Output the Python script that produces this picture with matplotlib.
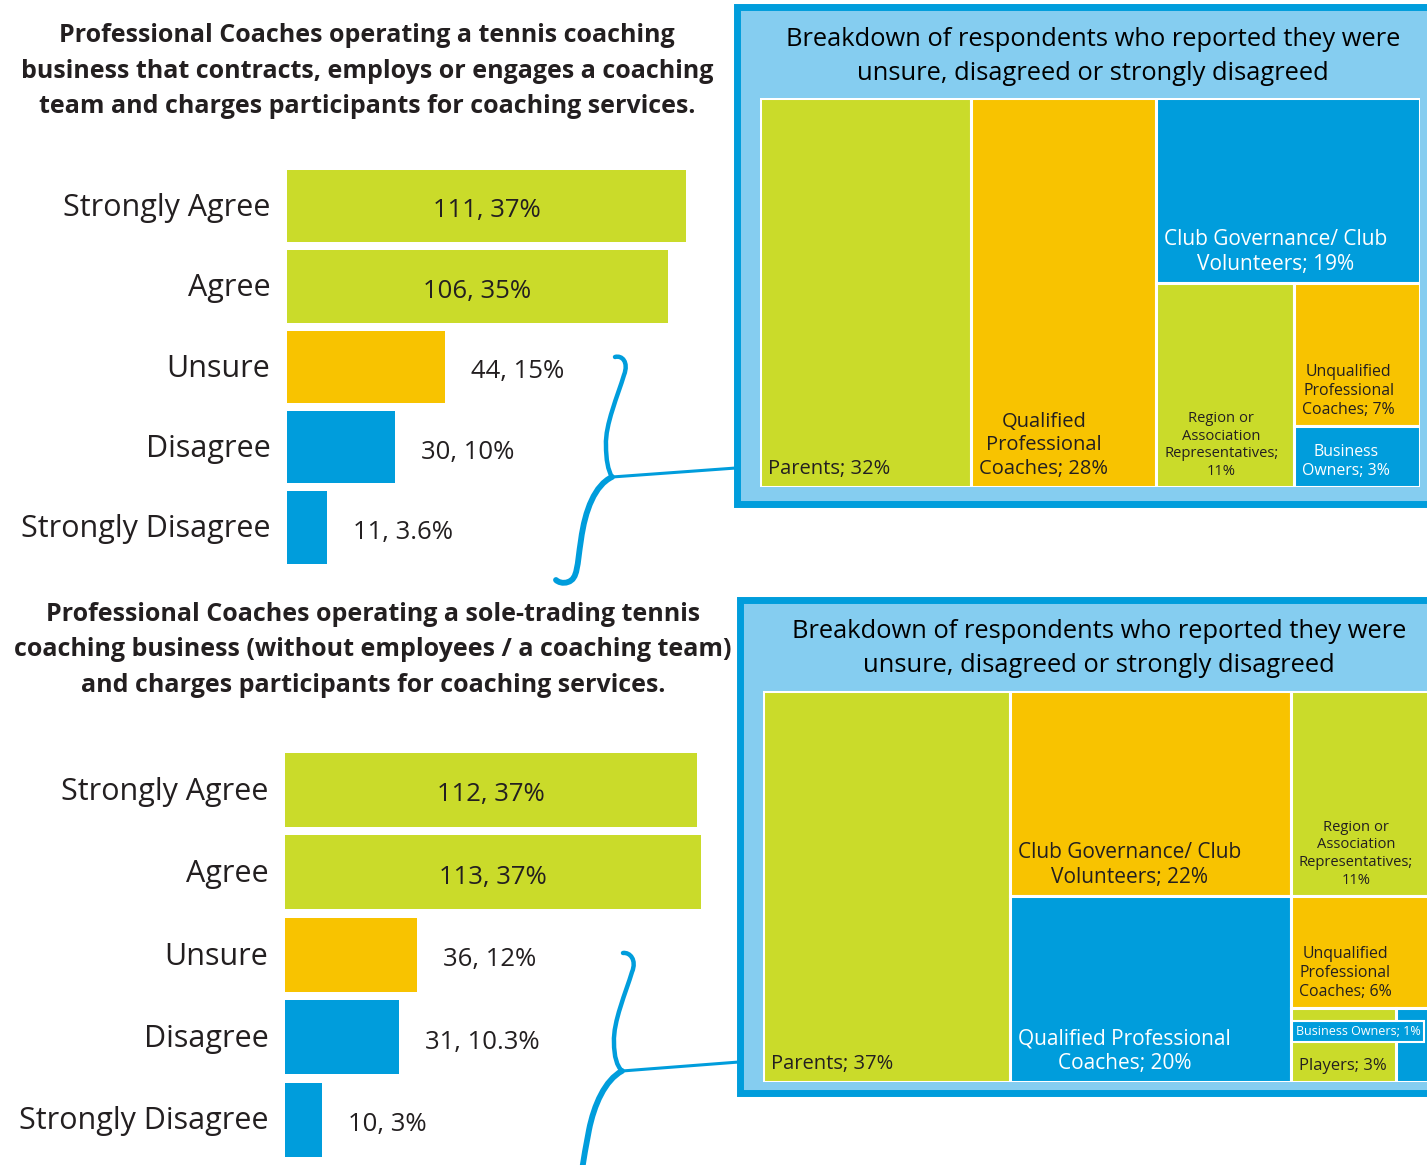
import matplotlib
matplotlib.use("Agg")
import matplotlib.pyplot as plt
from matplotlib.patches import Rectangle, PathPatch
from matplotlib.path import Path

plt.rcParams['font.family'] = ['Open Sans', 'DejaVu Sans']

# ---------------- data ----------------
categories = ["Strongly Agree", "Agree", "Unsure", "Disagree", "Strongly Disagree"]
top_counts = [111, 106, 44, 30, 11]
top_pcts = ["37%", "35%", "15%", "10%", "3.6%"]
bot_counts = [112, 113, 36, 31, 10]
bot_pcts = ["37%", "37%", "12%", "10.3%", "3%"]

top_title = ("Professional Coaches operating a tennis coaching\n"
             "business that contracts, employs or engages a coaching\n"
             "team and charges participants for coaching services.")
bot_title = ("Professional Coaches operating a sole-trading tennis\n"
             "coaching business (without employees / a coaching team)\n"
             "and charges participants for coaching services.")
box_title = "Breakdown of respondents who reported they were\nunsure, disagreed or strongly disagreed"

tm1_labels = ["Parents; 32%", "Qualified\nProfessional\nCoaches; 28%",
              "Club Governance/ Club\nVolunteers; 19%",
              "Region or\nAssociation\nRepresentatives;\n11%",
              "Unqualified\nProfessional\nCoaches; 7%", "Business\nOwners; 3%"]
tm1_values = [32, 28, 19, 11, 7, 3]
tm1_colors = ["g", "y", "b", "g", "y", "b"]
tm1_spec = ('h', [0, 1, ('v', [2, ('h', [3, ('v', [4, 5])])])])

tm2_labels = ["Parents; 37%", "Club Governance/ Club\nVolunteers; 22%",
              "Qualified Professional\nCoaches; 20%",
              "Region or\nAssociation\nRepresentatives;\n11%",
              "Unqualified\nProfessional\nCoaches; 6%", "Players; 3%",
              "Business Owners; 1%"]
tm2_values = [37, 22, 20, 11, 6, 3, 1]
tm2_colors = ["g", "y", "b", "g", "y", "g", "b"]
tm2_spec = ('h', [0, ('v', [1, 2]), ('v', [3, 4, ('h', [5, 6])])])

bar_colors = ["g", "g", "y", "b", "b"]

# ---------------- style ----------------
PAL = {"g": "#CADB2A", "y": "#F8C300", "b": "#009DDC"}
LIGHT = "#85CDF0"
TXT = "#231F20"

W, H = 1427, 1165
fig = plt.figure(figsize=(W / 100, H / 100), dpi=100)
fig.patch.set_facecolor("white")


def px_axes(x0, y0, x1, y1, z=1):
    return fig.add_axes([x0 / W, 1 - y1 / H, (x1 - x0) / W, (y1 - y0) / H], zorder=z)


# overlay for decorations
ov = px_axes(0, 0, W, H, z=0)
ov.set_xlim(0, W)
ov.set_ylim(H, 0)
ov.axis("off")

# ---------------- bar charts ----------------
def bar_chart(x0, y_first, pitch, scale, counts, pcts, title, title_xy):
    y0 = y_first - pitch / 2
    y1 = y_first + pitch * 4.5
    x1 = 740
    ax = px_axes(x0, y0, x1, y1, z=1)
    ax.patch.set_alpha(0)
    ypos = list(range(len(counts)))
    ax.barh(ypos, counts, height=0.9, color=[PAL[c] for c in bar_colors])
    ax.set_xlim(0, (x1 - x0) / scale)
    ax.set_ylim(len(counts) - 0.5, -0.5)
    for s in ax.spines.values():
        s.set_visible(False)
    ax.set_xticks([])
    ax.set_yticks([p - 0.02 for p in ypos])
    ax.set_yticklabels(categories, fontsize=22, color=TXT)
    ax.tick_params(axis="y", length=0, pad=12)
    for i, (c, p) in enumerate(zip(counts, pcts)):
        lab = f"{c}, {p}"
        if c > 60:
            ax.text(c / 2, i + 0.06, lab, ha="center", va="center", fontsize=18.5, color=TXT)
        else:
            ax.annotate(lab, xy=(c, i + 0.06), xytext=(26, 0), textcoords="offset pixels",
                        ha="left", va="center", fontsize=18.5, color=TXT)
    ov.text(title_xy[0], title_xy[1], title, ha="center", va="center", fontsize=18,
            fontweight="bold", color=TXT, linespacing=1.54)


bar_chart(287, 206, 80.4, 3.595, top_counts, top_pcts, top_title, (367, 71))
bar_chart(285, 790, 82.4, 3.68, bot_counts, bot_pcts, bot_title, (373, 650))

# ---------------- treemap boxes ----------------
for (bx0, by0, bx1, by1) in [(737, 6.5, 1450, 503.5), (740, 599.5, 1450, 1092.5)]:
    ov.add_patch(Rectangle((bx0, by0), bx1 - bx0, by1 - by0, facecolor=LIGHT,
                           edgecolor=PAL["b"], linewidth=5, zorder=0))
for (cx, cy) in [(1093, 56.5), (1099, 648.5)]:
    ov.text(cx, cy, box_title, ha="center", va="center", fontsize=18.4, color="black",
            linespacing=1.5)


def total(spec, vals):
    if isinstance(spec, int):
        return vals[spec]
    return sum(total(k, vals) for k in spec[1])


def layout(spec, vals, x, y, w, h, out):
    if isinstance(spec, int):
        out[spec] = (x, y, w, h)
        return
    d, kids = spec
    tot = sum(total(k, vals) for k in kids)
    pos = x if d == "h" else y
    for k in kids:
        f = total(k, vals) / tot
        if d == "h":
            layout(k, vals, pos, y, w * f, h, out)
            pos += w * f
        else:
            layout(k, vals, x, pos, w, h * f, out)
            pos += h * f


def treemap(rect, spec, vals, labels, colors, fs, special=None):
    ax = px_axes(*rect, z=2)
    ax.set_xlim(0, 1)
    ax.set_ylim(1, 0)
    ax.axis("off")
    out = {}
    layout(spec, vals, 0, 0, 1, 1, out)
    for i in range(len(vals)):
        x, y, w, h = out[i]
        ax.add_patch(Rectangle((x, y), w, h, facecolor=PAL[colors[i]], edgecolor="white",
                               linewidth=2.2))
        tc = "white" if colors[i] == "b" else TXT
        if special and i in special:
            off, sfs = special[i]
            ax.annotate(labels[i], xy=(x, y), xytext=off, textcoords="offset pixels",
                        ha="center", va="center", fontsize=sfs, color="white",
                        bbox=dict(boxstyle="square,pad=0.3", facecolor=PAL["b"],
                                  edgecolor="white", linewidth=1.5),
                        annotation_clip=False)
            continue
        ax.annotate(labels[i], xy=(x, y + h), xytext=(8, 8), textcoords="offset pixels",
                    ha="left", va="bottom", multialignment="center", fontsize=fs[i],
                    color=tc, linespacing=1.25)


treemap((760, 98, 1420, 487), tm1_spec, tm1_values, tm1_labels, tm1_colors,
        [14.5, 14.5, 15, 10.6, 11.4, 11.4])
treemap((763, 691, 1431, 1082), tm2_spec, tm2_values, tm2_labels, tm2_colors,
        [14.5, 15, 15, 10.6, 11.4, 12, 9], special={6: ((-38, -24), 9)})

# ---------------- braces and connectors ----------------
def brace(pts_top, pts_bot, lw_top, lw_bot):
    for pts, lw in [(pts_top, lw_top), (pts_bot, lw_bot)]:
        codes = [Path.MOVETO] + [Path.CURVE4] * (len(pts) - 1)
        ov.add_patch(PathPatch(Path(pts, codes), facecolor="none", edgecolor=PAL["b"],
                               linewidth=lw, capstyle="round", joinstyle="round", zorder=3))


brace([(615, 357), (622, 355), (629, 362), (624, 375),
       (618, 395), (605, 425), (606, 445),
       (606, 460), (608, 470), (612, 477)],
      [(612, 477), (595, 485), (585, 510), (581, 540),
       (577, 565), (578, 579), (568, 582),
       (563, 584), (558, 582), (556, 580)], 3.2, 4.2)
ov.plot([612, 736], [477, 468], color=PAL["b"], lw=2.2, zorder=3)

brace([(623, 953), (630, 952), (637, 960), (632, 972),
       (626, 992), (613, 1022), (614, 1042),
       (614, 1057), (617, 1066), (622, 1071)],
      [(622, 1071), (605, 1080), (594, 1105), (589, 1130),
       (586, 1145), (584, 1158), (582, 1170)], 3.2, 4.2)
ov.plot([622, 739], [1071, 1062], color=PAL["b"], lw=2.2, zorder=3)

fig.savefig("out.png", dpi=100, facecolor="white")
